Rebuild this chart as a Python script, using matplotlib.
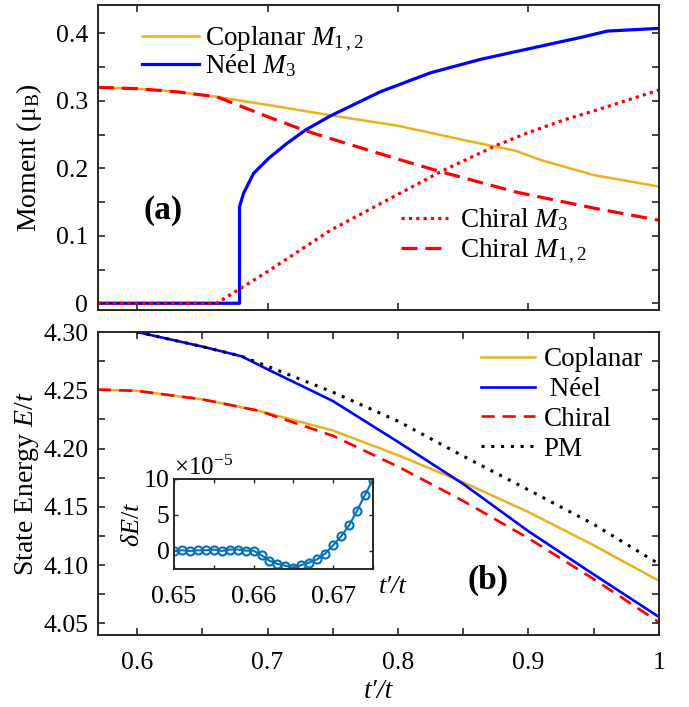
import matplotlib
matplotlib.use("Agg")
import matplotlib.pyplot as plt
import matplotlib.ticker as mticker

plt.rcParams.update({
    "font.family": ["Liberation Serif", "DejaVu Serif"],
    "mathtext.fontset": "custom",
    "mathtext.rm": "Liberation Serif",
    "mathtext.it": "Liberation Serif:italic",
    "mathtext.bf": "Liberation Serif:bold",
    "font.size": 18.5,
    "axes.linewidth": 1.4,
    "axes.edgecolor": "#262626",
    "xtick.color": "#262626",
    "ytick.color": "#262626",
    "xtick.labelcolor": "black",
    "ytick.labelcolor": "black",
    "xtick.direction": "in",
    "ytick.direction": "in",
    "xtick.top": True,
    "ytick.right": True,
})

# ---- (a) sublattice moments vs t'/t ----
tp_cop = [0.57, 0.60, 0.63, 0.661, 0.70, 0.75, 0.80, 0.85, 0.875, 0.89, 0.91, 0.95, 1.00]
m_cop = [0.320, 0.318, 0.3135, 0.306, 0.294, 0.278, 0.263, 0.242, 0.232, 0.226, 0.212, 0.190, 0.173]

tp_neel = [0.57, 0.6785, 0.6785, 0.6816, 0.6893, 0.7008, 0.7149, 0.729, 0.748, 0.7865,
           0.825, 0.8633, 0.9017, 0.9401, 0.9606, 1.00]
m_neel = [0.0, 0.0, 0.143, 0.163, 0.1926, 0.2148, 0.237, 0.2567, 0.2775, 0.3135,
          0.3416, 0.3615, 0.3778, 0.394, 0.4034, 0.4074]

tp_chi3 = [0.57, 0.661, 0.70, 0.748, 0.80, 0.8326, 0.876, 0.90, 0.927, 0.95, 1.00]
m_chi3 = [0.0, 0.0, 0.047, 0.108, 0.1615, 0.195, 0.2345, 0.253, 0.2716, 0.285, 0.316]

tp_chi12 = [0.57, 0.60, 0.63, 0.661, 0.70, 0.729, 0.75, 0.80, 0.8326, 0.85, 0.89, 0.95, 1.00]
m_chi12 = [0.320, 0.318, 0.3135, 0.306, 0.2765, 0.2557, 0.243, 0.2135, 0.195, 0.186, 0.165, 0.141, 0.123]

# ---- (b) state energies ----
tb_cop = [0.57, 0.60, 0.65, 0.693, 0.75, 0.80, 0.85, 0.90, 0.95, 1.00]
e_cop = [4.2506, 4.2495, 4.2422, 4.2325, 4.2155, 4.1943, 4.171, 4.1455, 4.117, 4.0865]

tb_neel = [0.60, 0.65, 0.68, 0.70, 0.75, 0.80, 0.85, 0.90, 0.95, 1.00]
e_neel = [4.300, 4.2875, 4.2792, 4.268, 4.2408, 4.2057, 4.1696, 4.129, 4.092, 4.0555]

tb_chi = [0.57, 0.60, 0.65, 0.693, 0.75, 0.80, 0.85, 0.90, 0.95, 1.00]
e_chi = [4.2506, 4.2495, 4.2422, 4.2325, 4.2110, 4.1845, 4.155, 4.123, 4.088, 4.051]

tb_pm = [0.60, 0.65, 0.68, 0.70, 0.75, 0.80, 0.85, 0.90, 0.95, 1.00]
e_pm = [4.300, 4.2875, 4.2792, 4.2706, 4.2484, 4.2235, 4.1935, 4.1645, 4.1350, 4.1010]

# ---- inset: energy difference near the transition ----
tp_de = [0.650, 0.651, 0.652, 0.653, 0.654, 0.655, 0.656, 0.657, 0.658, 0.659, 0.660,
         0.661, 0.662, 0.663, 0.664, 0.665, 0.666, 0.667, 0.668, 0.669, 0.670,
         0.671, 0.672, 0.673, 0.674, 0.675]
de = [0.0e-5, 0.1e-5, 0.0e-5, 0.1e-5, 0.1e-5, 0.2e-5, 0.0e-5, 0.2e-5, 0.2e-5, 0.05e-5, 0.05e-5,
      -0.6e-5, -1.35e-5, -1.8e-5, -2.05e-5, -2.35e-5, -1.95e-5, -1.6e-5, -1.15e-5, -0.35e-5, 0.8e-5,
      2.05e-5, 3.55e-5, 5.6e-5, 7.8e-5, 9.9e-5]

ORANGE = "#EDB120"
BLUE = "#0000FF"
RED = "#FF0000"
MBLUE = "#0072BD"

fig = plt.figure(figsize=(6.89, 7.07), dpi=100)
ax1 = fig.add_axes([0.1422, 0.5615, 0.8142, 0.4314])
ax2 = fig.add_axes([0.1422, 0.1018, 0.8142, 0.4286])
axi = fig.add_axes([0.2525, 0.1952, 0.2888, 0.1273])

fmt_g = mticker.FuncFormatter(lambda v, p: "%g" % round(v, 6))
tprime = "t\u2032/t"

# panel (a)
l1, = ax1.plot(tp_cop, m_cop, color=ORANGE, lw=1.8, label=r"Coplanar $M_{1\,,2}$")
l2, = ax1.plot(tp_neel, m_neel, color=BLUE, lw=2.3, label=r"Néel $M_3$")
l3, = ax1.plot(tp_chi3, m_chi3, color=RED, lw=2.3, ls=(0, (1, 1.3)), label=r"Chiral $M_3$")
l4, = ax1.plot(tp_chi12, m_chi12, color=RED, lw=2.3, ls=(0, (5, 2.5)), label=r"Chiral $M_{1\,,2}$")
ax1.set_xlim(0.57, 1.0)
ax1.set_ylim(-0.01, 0.442)
ax1.xaxis.set_major_locator(mticker.MultipleLocator(0.1))
ax1.xaxis.set_major_formatter(mticker.NullFormatter())
ax1.yaxis.set_major_locator(mticker.MultipleLocator(0.1))
ax1.yaxis.set_minor_locator(mticker.MultipleLocator(0.05))
ax1.yaxis.set_major_formatter(fmt_g)
ax1.set_ylabel(r"Moment (μ$_\mathrm{B}$)", fontsize=20, labelpad=8.5)
ax1.text(0.62, 0.138, "(a)", fontsize=24, fontweight="bold", ha="center", va="center")

leg_a1 = ax1.legend(handles=[l1, l2], loc="upper left", bbox_to_anchor=(0.078, 0.935),
                    frameon=False, fontsize=19.5, handlelength=2.1, handletextpad=0.25,
                    labelspacing=-0.07, borderaxespad=0, borderpad=0)
ax1.add_artist(leg_a1)
ax1.legend(handles=[l3, l4], loc="lower left", bbox_to_anchor=(0.54, 0.143),
           frameon=False, fontsize=19.5, handlelength=1.75, handletextpad=0.45,
           labelspacing=0.15, borderaxespad=0, borderpad=0)

# panel (b)
ax2.plot(tb_cop, e_cop, color=ORANGE, lw=1.8, label="Coplanar")
ax2.plot(tb_neel, e_neel, color=BLUE, lw=1.9, label=" Néel")
ax2.plot(tb_chi, e_chi, color=RED, lw=1.9, ls=(0, (5, 3)), label="Chiral")
ax2.plot(tb_pm, e_pm, color="black", lw=2.2, ls=(0, (1, 2.2)), label="PM")
ax2.set_xlim(0.57, 1.0)
ax2.set_ylim(4.04, 4.30)
ax2.xaxis.set_major_locator(mticker.MultipleLocator(0.1))
ax2.xaxis.set_minor_locator(mticker.MultipleLocator(0.05))
ax2.xaxis.set_major_formatter(fmt_g)
ax2.yaxis.set_major_locator(mticker.MultipleLocator(0.05))
ax2.yaxis.set_minor_locator(mticker.MultipleLocator(0.025))
ax2.yaxis.set_major_formatter(mticker.FormatStrFormatter("%.2f"))
ax2.set_ylabel(r"State Energy $E/t$", fontsize=20, labelpad=1.5)
ax2.set_xlabel(tprime, fontsize=20, fontstyle="italic", labelpad=4)
ax2.text(0.8687, 4.087, "(b)", fontsize=24, fontweight="bold", ha="center", va="center")
ax2.legend(loc="upper left", bbox_to_anchor=(0.683, 0.95), frameon=False, fontsize=19.5,
           handlelength=2.0, handletextpad=0.3, labelspacing=0.18,
           borderaxespad=0, borderpad=0)

for ax in (ax1, ax2):
    ax.tick_params(which="both", length=5, width=1.2, labelsize=18.5)
    ax.tick_params(axis="y", pad=7)
    ax.tick_params(axis="x", pad=12)

# inset
axi.plot(tp_de, de, color=MBLUE, lw=1.5, marker="o", ms=5.8, mfc="none", mew=1.5)
axi.set_xlim(0.65, 0.675)
axi.set_ylim(-2.5e-5, 10e-5)
axi.xaxis.set_major_locator(mticker.MultipleLocator(0.01))
axi.xaxis.set_minor_locator(mticker.MultipleLocator(0.005))
axi.xaxis.set_major_formatter(fmt_g)
axi.yaxis.set_major_locator(mticker.FixedLocator([0, 5e-5, 10e-5]))
sf = mticker.ScalarFormatter(useMathText=True)
sf.set_powerlimits((-5, -5))
axi.yaxis.set_major_formatter(sf)
axi.yaxis.get_offset_text().set_fontsize(18)
axi.tick_params(which="both", length=3, width=1.0, labelsize=18.5)
axi.tick_params(axis="x", pad=12)
axi.tick_params(axis="y", pad=3)
axi.set_ylabel(r"$\delta E/t$", fontsize=19, labelpad=-1)
axi.text(1.1, -0.2, tprime, fontsize=19, fontstyle="italic", transform=axi.transAxes,
         ha="center", va="center")

fig.savefig("out.png", dpi=100)
